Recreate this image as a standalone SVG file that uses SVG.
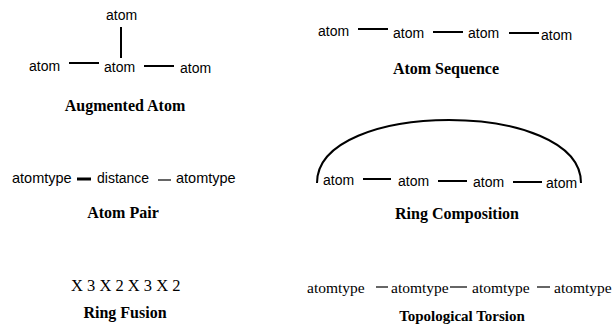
<svg xmlns="http://www.w3.org/2000/svg" width="615" height="324" viewBox="0 0 615 324">
<style>
  .a { font-family: "Liberation Sans", Arial, sans-serif; font-size: 14px; fill: #000; }
  .t { font-family: "Liberation Serif", "Times New Roman", serif; font-size: 15.5px; fill: #000; }
  .lbl { font-family: "Liberation Serif", "Times New Roman", serif; font-size: 16px; font-weight: bold; fill: #000; text-anchor: middle; }
  .b { stroke: #000; stroke-width: 2; fill: none; }
  .thin { stroke: #000; stroke-width: 1.2; fill: none; }
  .thick { stroke: #000; stroke-width: 3; fill: none; }
</style>
<rect width="615" height="324" fill="#fff"/>

<!-- Augmented Atom -->
<g id="aug-top"><text class="a" x="106" y="20">atom</text></g>
<g id="aug-left"><text class="a" x="29" y="71">atom</text></g>
<g id="aug-center"><text class="a" x="104" y="72">atom</text></g>
<g id="aug-right"><text class="a" x="180" y="73">atom</text></g>
<g id="aug-label"><text class="lbl" x="125" y="111">Augmented Atom</text></g>

<!-- Atom Sequence -->
<g id="seq-1"><text class="a" x="318" y="36">atom</text></g>
<g id="seq-2"><text class="a" x="393" y="38">atom</text></g>
<g id="seq-3"><text class="a" x="468" y="38">atom</text></g>
<g id="seq-4"><text class="a" x="541" y="40">atom</text></g>
<g id="seq-label"><text class="lbl" x="446" y="74" textLength="106">Atom Sequence</text></g>

<!-- Atom Pair -->
<g id="pair-1"><text class="a" x="12" y="183" style="font-size:14.5px">atomtype</text></g>
<g id="pair-dist"><text class="a" x="97" y="183">distance</text></g>
<g id="pair-2"><text class="a" x="176" y="183" style="font-size:14.5px">atomtype</text></g>
<g id="pair-label"><text class="lbl" x="123" y="218">Atom Pair</text></g>

<!-- Ring Composition -->
<g id="ring-1"><text class="a" x="323" y="185">atom</text></g>
<g id="ring-2"><text class="a" x="398" y="186">atom</text></g>
<g id="ring-3"><text class="a" x="473" y="187">atom</text></g>
<g id="ring-4"><text class="a" x="546" y="188">atom</text></g>
<g id="ring-label"><text class="lbl" x="457" y="219">Ring Composition</text></g>

<!-- Ring Fusion -->
<g id="fusion"><text class="t" x="71" y="291" style="font-size:16.5px">X 3 X 2 X 3 X 2</text></g>
<g id="fusion-label"><text class="lbl" x="125" y="318">Ring Fusion</text></g>

<!-- Topological Torsion -->
<g id="tor-1"><text class="t" x="307" y="293">atomtype</text></g>
<g id="tor-2"><text class="t" x="391" y="293">atomtype</text></g>
<g id="tor-3"><text class="t" x="472" y="293">atomtype</text></g>
<g id="tor-4"><text class="t" x="554" y="293">atomtype</text></g>
<g id="tor-label"><text class="lbl" x="462" y="321" style="font-size:15px">Topological Torsion</text></g>

<g id="connectors">
  <!-- augmented -->
  <line class="b" x1="121" y1="27" x2="121" y2="58"/>
  <line class="b" x1="69" y1="63" x2="99" y2="63"/>
  <line class="b" x1="144" y1="66" x2="174" y2="66"/>
  <!-- sequence -->
  <line class="b" x1="358" y1="29" x2="388" y2="29"/>
  <line class="b" x1="433" y1="32" x2="463" y2="32"/>
  <line class="b" x1="509" y1="33" x2="539" y2="33"/>
  <!-- pair -->
  <line class="thick" x1="77" y1="179" x2="91" y2="179"/>
  <line class="thin" x1="158" y1="180" x2="171" y2="180"/>
  <!-- ring -->
  <path class="b" d="M317,183 C317,99 581,99 581,183"/>
  <line class="b" x1="363" y1="179" x2="391" y2="179"/>
  <line class="b" x1="438" y1="181" x2="467" y2="181"/>
  <line class="b" x1="513" y1="182" x2="542" y2="182"/>
  <!-- torsion -->
  <line class="thin" x1="376" y1="287" x2="388" y2="287"/>
  <line class="thin" x1="450" y1="287" x2="467" y2="287"/>
  <line class="thin" x1="537" y1="287" x2="550" y2="287"/>
</g>
</svg>
